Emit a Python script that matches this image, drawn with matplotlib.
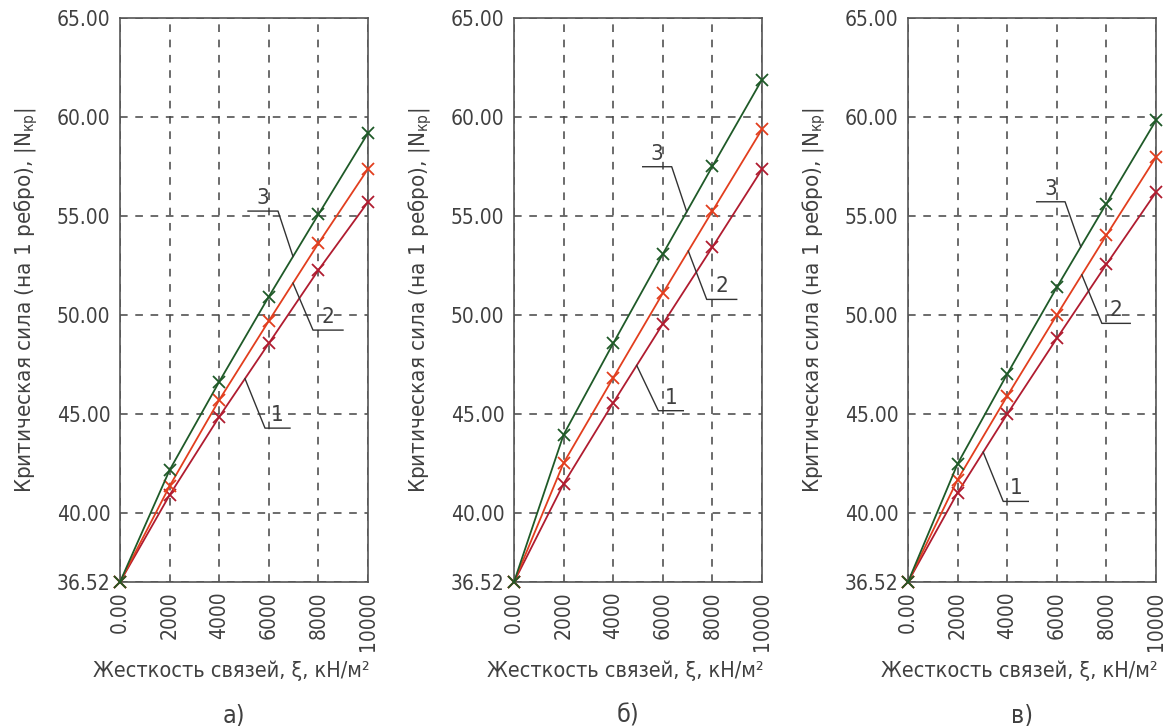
import numpy as np
import matplotlib
matplotlib.use("Agg")
import matplotlib.pyplot as plt
from matplotlib import font_manager

# ---------------- data ----------------
stiffness = [0, 2000, 4000, 6000, 8000, 10000]
x_tick_labels = ["0.00", "2000", "4000", "6000", "8000", "10000"]
y_ticks = [36.52, 40, 45, 50, 55, 60, 65]
y_tick_labels = ["36.52", "40.00", "45.00", "50.00", "55.00", "60.00", "65.00"]
panel_names = ["а)", "б)", "в)"]
curve_names = ["1", "2", "3"]

# panel а
a_curve1 = [36.52, 40.91, 44.86, 48.57, 52.27, 55.71]
a_curve2 = [36.52, 41.36, 45.71, 49.70, 53.62, 57.38]
a_curve3 = [36.52, 42.17, 46.63, 50.93, 55.08, 59.19]
# panel б
b_curve1 = [36.52, 41.48, 45.57, 49.55, 53.43, 57.36]
b_curve2 = [36.52, 42.53, 46.83, 51.10, 55.25, 59.38]
b_curve3 = [36.52, 43.96, 48.57, 53.08, 57.51, 61.89]
# panel в
c_curve1 = [36.52, 41.03, 45.00, 48.82, 52.56, 56.20]
c_curve2 = [36.52, 41.69, 45.91, 50.00, 54.03, 57.97]
c_curve3 = [36.52, 42.49, 47.02, 51.40, 55.63, 59.83]

# ---------------- style ----------------
fl = font_manager.fontManager.ttflist
names = {f.name for f in fl}
stretch = "normal"
scale = 1.0
if "Liberation Sans Narrow" in names:
    fam = "Liberation Sans Narrow"
elif any(f.name == "DejaVu Sans" and "condensed" in str(f.stretch).lower() for f in fl):
    fam = "DejaVu Sans"
    stretch = "condensed"
elif "Roboto Condensed" in names:
    fam = "Roboto Condensed"
else:
    cand = [f.name for f in fl if ("Condensed" in f.name or "Narrow" in f.name)]
    if cand:
        fam = cand[0]
    else:
        fam = "DejaVu Sans"
        scale = 0.85
plt.rcParams["font.family"] = [fam, "DejaVu Sans"]
plt.rcParams["font.stretch"] = stretch
plt.rcParams["mathtext.fontset"] = "custom"
plt.rcParams["mathtext.rm"] = fam
plt.rcParams["mathtext.it"] = fam

TXT = "#404040"
colors = ["#b01c30", "#e23e1e", "#1f5a28"]

fig = plt.figure(figsize=(11.69, 7.26), dpi=100)
W, H = 1169, 726
lefts = [120, 514, 908]
ax_w = 248
top, bottom = 18, 582

panels = [
    [a_curve1, a_curve2, a_curve3],
    [b_curve1, b_curve2, b_curve3],
    [c_curve1, c_curve2, c_curve3],
]

# leader lines: (curve index, anchor x on curve, elbow (x, y), end x)
leaders = [
    [
        (2, 6976, (6371, 55.25), 5161),
        (1, 6976, (7782, 49.24), 8992),
        (0, 5040, (5847, 44.29), 6855),
    ],
    [
        (2, 6964, (6359, 57.49), 5190),
        (1, 7028, (7770, 50.79), 8980),
        (0, 4948, (5819, 45.17), 6827),
    ],
    [
        (2, 6968, (6334, 55.72), 5190),
        (1, 7009, (7817, 49.58), 8961),
        (0, 3032, (3840, 40.59), 4851),
    ],
]

for p, curves in enumerate(panels):
    ax = fig.add_axes([lefts[p] / W, (H - bottom) / H, ax_w / W, (bottom - top) / H])
    for i, ys in enumerate(curves):
        ax.plot(stiffness, ys, color=colors[i], lw=1.3, marker="x", ms=9,
                mew=1.3, clip_on=False, zorder=3)
    ax.set_xlim(0, 10000)
    ax.set_ylim(36.52, 65)
    ax.set_xticks(stiffness)
    ax.set_xticklabels(x_tick_labels, rotation=90, fontsize=15 * scale, color=TXT)
    ax.set_yticks(y_ticks)
    ax.set_yticklabels(y_tick_labels, fontsize=15 * scale, color=TXT)
    ax.tick_params(length=0, pad=7)
    ax.grid(True, color="#444444", ls=(0, (5, 5)), lw=1.1)
    for s in ax.spines.values():
        s.set_color("#555555")
        s.set_linewidth(1.2)
    ax.set_xlabel("Жесткость связей, ξ, кН/м²", fontsize=15.5 * scale, color=TXT)
    ax.xaxis.set_label_coords(0.45, -0.14)
    ax.set_ylabel("Критическая сила (на 1 ребро), |N$_{кр}$|", fontsize=16 * scale,
                  color=TXT, labelpad=12)
    ax.text(0.46, -0.215, panel_names[p], transform=ax.transAxes, ha="center",
            va="top", fontsize=18 * scale, color=TXT)
    for ci, ax_x, elbow, end_x in leaders[p]:
        ay = np.interp(ax_x, stiffness, curves[ci])
        ax.plot([ax_x, elbow[0], end_x], [ay, elbow[1], elbow[1]],
                color="#333333", lw=1.0, zorder=4)
        ax.text((elbow[0] + end_x) / 2, elbow[1] + 0.15, curve_names[ci],
                ha="center", va="bottom", fontsize=16 * scale, color=TXT)

fig.savefig("out.png", dpi=100)
